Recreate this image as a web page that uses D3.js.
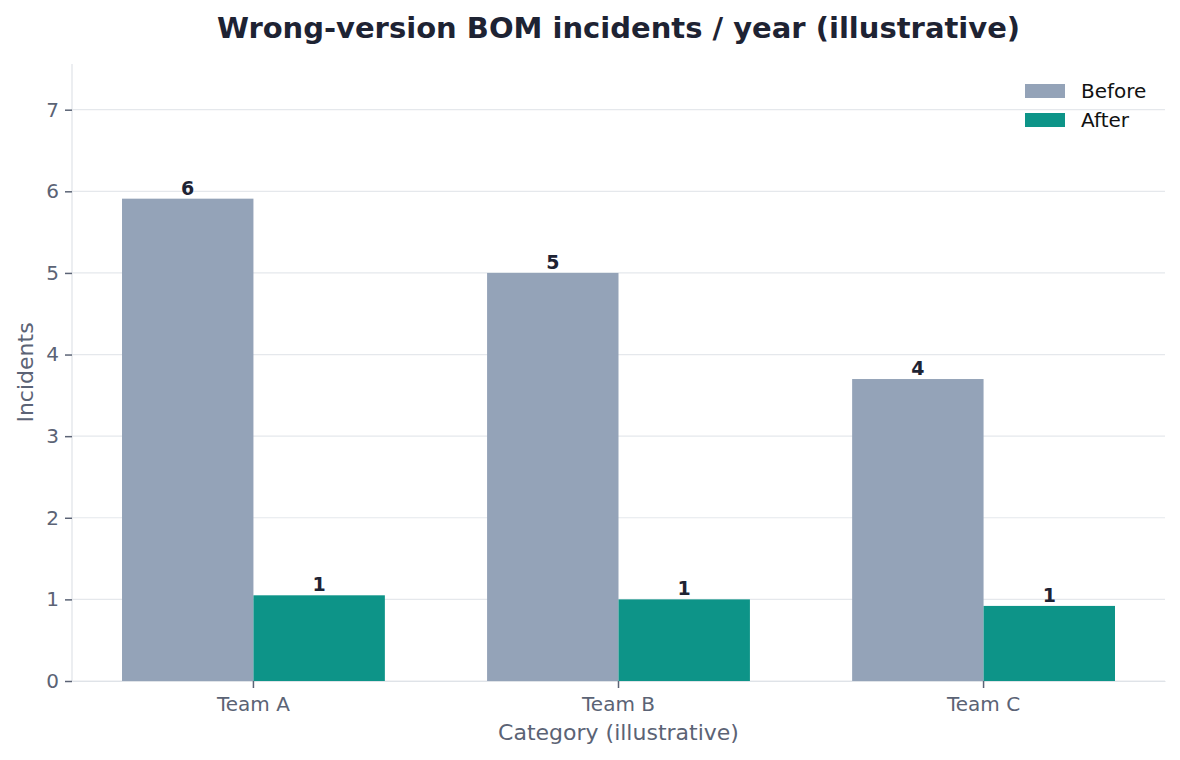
<!DOCTYPE html>
<html>
<head>
<meta charset="utf-8">
<script src="https://cdn.jsdelivr.net/npm/d3@7"></script>
<style>
  body { margin: 0; background: #fff; }
  text { font-family: "DejaVu Sans", sans-serif; }
</style>
</head>
<body>
<svg id="chart"></svg>
<script>
// data
const categories = ["Team A", "Team B", "Team C"];
const seriesNames = ["Before", "After"];
const beforeValues = [5.91, 5.0, 3.7];
const afterValues = [1.05, 1.0, 0.92];
const yTicks = [0, 1, 2, 3, 4, 5, 6, 7];

const colors = { Before: "#94a3b8", After: "#0d9488" };

const W = 1180, H = 760;
const margin = { top: 64, right: 15, bottom: 79, left: 72 };
const innerW = W - margin.left - margin.right;
const innerH = H - margin.top - margin.bottom;

const svg = d3.select("#chart").attr("width", W).attr("height", H);
const chart = svg.append("g").attr("transform", `translate(${margin.left},${margin.top})`);

const rows = categories.map((c, i) => ({ cat: c, Before: beforeValues[i], After: afterValues[i] }));

const x0 = d3.scaleBand().domain(categories).range([0, innerW]).paddingInner(0.28).paddingOuter(0.137);
const x1 = d3.scaleBand().domain(seriesNames).range([0, x0.bandwidth()]);
const y = d3.scaleLinear().domain([0, 7.56]).range([innerH, 0]);

// grid
chart.append("g").selectAll("line").data(yTicks).join("line")
  .attr("x1", 0).attr("x2", innerW)
  .attr("y1", d => y(d)).attr("y2", d => y(d))
  .attr("stroke", "#e5e8ec").attr("stroke-width", 1.2);

// bars
const groups = chart.selectAll(".grp").data(rows).join("g")
  .attr("transform", d => `translate(${x0(d.cat)},0)`);

groups.selectAll("rect").data(d => seriesNames.map(s => ({ s, v: d[s] }))).join("rect")
  .attr("x", d => x1(d.s)).attr("width", x1.bandwidth())
  .attr("y", d => y(d.v)).attr("height", d => y(0) - y(d.v))
  .attr("fill", d => colors[d.s]);

groups.selectAll("text.val").data(d => seriesNames.map(s => ({ s, v: d[s] }))).join("text")
  .attr("class", "val")
  .attr("x", d => x1(d.s) + x1.bandwidth() / 2)
  .attr("y", d => y(d.v) - 4)
  .attr("text-anchor", "middle")
  .attr("font-size", 19).attr("font-weight", "bold").attr("fill", "#1e2333")
  .text(d => Math.round(d.v));

// axes
const yAxis = d3.axisLeft(y).tickValues(yTicks).tickSize(7).tickPadding(6);
const yg = chart.append("g").call(yAxis);
yg.select(".domain").attr("stroke", "#dfe3e8").attr("stroke-width", 1.2)
  .attr("d", `M0,0V${innerH}`);
yg.selectAll(".tick line").attr("stroke", "#5b6375").attr("stroke-width", 1.5);
yg.selectAll(".tick text").attr("font-size", 20).attr("fill", "#5b6375")
  .attr("font-family", "DejaVu Sans");

const xAxis = d3.axisBottom(x0).tickSize(7).tickPadding(9).tickSizeOuter(0);
const xg = chart.append("g").attr("transform", `translate(0,${innerH})`).call(xAxis);
xg.select(".domain").attr("stroke", "#dfe3e8").attr("stroke-width", 1.2);
xg.selectAll(".tick line").attr("stroke", "#5b6375").attr("stroke-width", 1.5);
xg.selectAll(".tick text").attr("font-size", 20).attr("fill", "#5b6375")
  .attr("font-family", "DejaVu Sans");

// titles
svg.append("text")
  .attr("x", margin.left + innerW / 2).attr("y", 38)
  .attr("text-anchor", "middle")
  .attr("font-size", 29).attr("font-weight", "bold").attr("fill", "#1e2333")
  .text("Wrong-version BOM incidents / year (illustrative)");

svg.append("text")
  .attr("x", margin.left + innerW / 2).attr("y", 740)
  .attr("text-anchor", "middle")
  .attr("font-size", 22).attr("fill", "#5b6375")
  .text("Category (illustrative)");

svg.append("text")
  .attr("transform", `translate(33,${margin.top + innerH / 2}) rotate(-90)`)
  .attr("text-anchor", "middle")
  .attr("font-size", 22).attr("fill", "#5b6375")
  .text("Incidents");

// legend
const legend = svg.append("g").attr("transform", "translate(1025,84)");
seriesNames.forEach((s, i) => {
  const g = legend.append("g").attr("transform", `translate(0,${i * 29})`);
  g.append("rect").attr("width", 40).attr("height", 14).attr("fill", colors[s]);
  g.append("text").attr("x", 56).attr("y", 14).attr("font-size", 20).attr("fill", "#111")
    .text(s);
});
</script>
</body>
</html>
